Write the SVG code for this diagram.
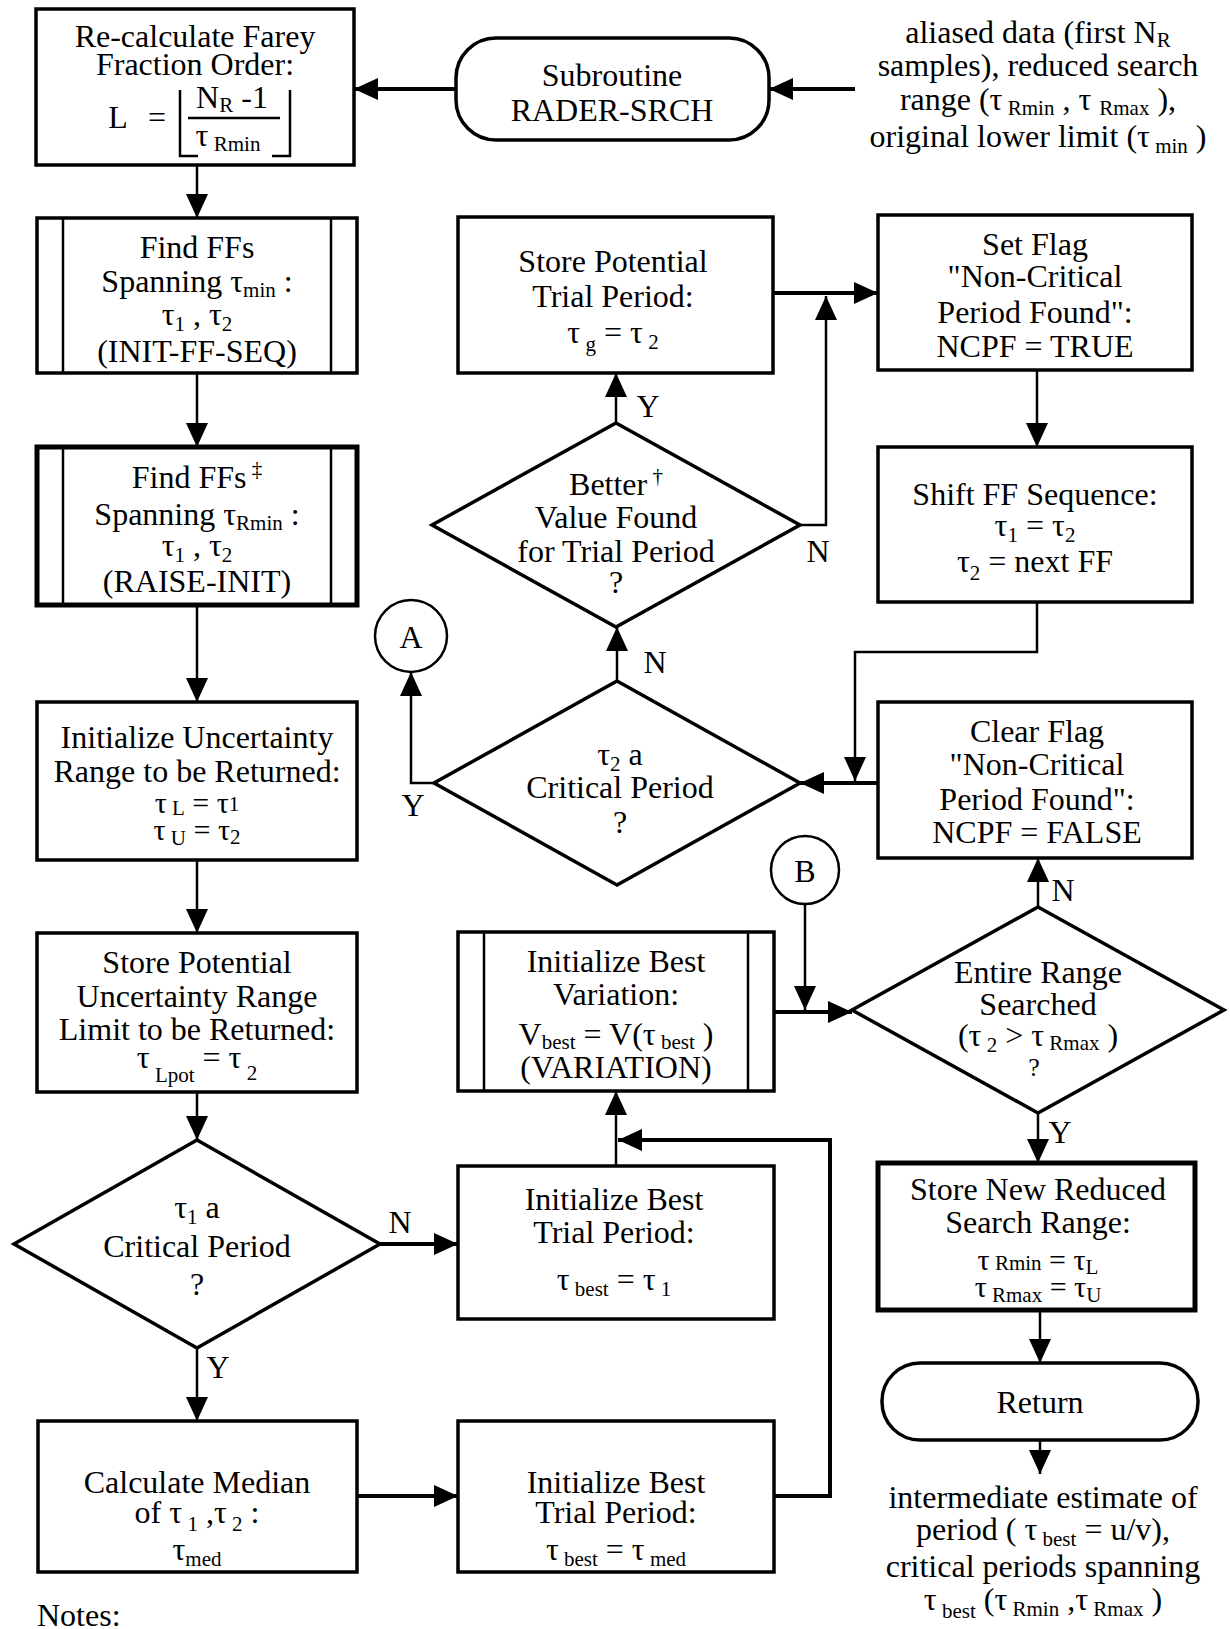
<svg xmlns="http://www.w3.org/2000/svg" width="1230" height="1629" viewBox="0 0 1230 1629">
<defs>
<marker id="ah" markerWidth="24" markerHeight="22" refX="24" refY="11" orient="auto" markerUnits="userSpaceOnUse"><path d="M0,0 L24,11 L0,22 z" fill="#000"/></marker>
</defs>
<style>
text{font-family:"Liberation Serif","Times New Roman",serif;font-size:32px;fill:#000;text-anchor:middle}
.l{text-anchor:start}
.s{font-size:21px}
.q{font-size:26px}
.f{font-size:30px}
.box{fill:#fff;stroke:#000;stroke-width:3.5}
.thick{stroke-width:5}
.dia{fill:#fff;stroke:#000;stroke-width:3.5}
.bar{stroke:#000;stroke-width:2.5;fill:none}
.c{fill:none;stroke:#000;stroke-width:2.5}
.cb{fill:none;stroke:#000;stroke-width:4}
</style>
<rect width="1230" height="1629" fill="#fff"/>

<g id="connectors">
<line class="cb" x1="855" y1="89" x2="769" y2="89" marker-end="url(#ah)"/>
<line class="cb" x1="456" y1="89" x2="354" y2="89" marker-end="url(#ah)"/>
<line class="c" x1="197" y1="165" x2="197" y2="218" marker-end="url(#ah)"/>
<line class="c" x1="197" y1="373" x2="197" y2="447" marker-end="url(#ah)"/>
<line class="c" x1="197" y1="605" x2="197" y2="702" marker-end="url(#ah)"/>
<line class="c" x1="197" y1="860" x2="197" y2="933" marker-end="url(#ah)"/>
<line class="c" x1="197" y1="1092" x2="197" y2="1140" marker-end="url(#ah)"/>
<line class="cb" x1="380" y1="1244" x2="458" y2="1244" marker-end="url(#ah)"/>
<line class="c" x1="197" y1="1348" x2="197" y2="1421" marker-end="url(#ah)"/>
<line class="cb" x1="357" y1="1496" x2="458" y2="1496" marker-end="url(#ah)"/>
<polyline class="cb" points="774,1496 830,1496 830,1140 618,1140" marker-end="url(#ah)"/>
<line class="c" x1="616" y1="1166" x2="616" y2="1091" marker-end="url(#ah)"/>
<line class="cb" x1="774" y1="1012" x2="852" y2="1012" marker-end="url(#ah)"/>
<line class="c" x1="805" y1="904" x2="805" y2="1010" marker-end="url(#ah)"/>
<line class="c" x1="1038" y1="907" x2="1038" y2="858" marker-end="url(#ah)"/>
<line class="c" x1="1038" y1="1113" x2="1038" y2="1163" marker-end="url(#ah)"/>
<line class="c" x1="1040" y1="1310" x2="1040" y2="1363" marker-end="url(#ah)"/>
<line class="c" x1="1040" y1="1440" x2="1040" y2="1474" marker-end="url(#ah)"/>
<line class="cb" x1="878" y1="783" x2="800" y2="783" marker-end="url(#ah)"/>
<polyline class="c" points="434,783 411,783 411,672" marker-end="url(#ah)"/>
<line class="c" x1="617" y1="681" x2="617" y2="627" marker-end="url(#ah)"/>
<line class="c" x1="616" y1="423" x2="616" y2="373" marker-end="url(#ah)"/>
<polyline class="c" points="800,525 826,525 826,296" marker-end="url(#ah)"/>
<line class="cb" x1="773" y1="293" x2="878" y2="293" marker-end="url(#ah)"/>
<line class="c" x1="1037" y1="370" x2="1037" y2="447" marker-end="url(#ah)"/>
<polyline class="c" points="1037,602 1037,652 855,652 855,781" marker-end="url(#ah)"/>
<text x="400" y="1233">N</text>
<text x="218" y="1378">Y</text>
<text x="1063" y="901">N</text>
<text x="1060" y="1143">Y</text>
<text x="413" y="816">Y</text>
<text x="655" y="673">N</text>
<text x="648" y="417">Y</text>
<text x="818" y="562">N</text>
</g>

<g id="n-recalc">
<rect class="box" x="36" y="9" width="318" height="156" stroke-width="4"/>
<text x="195" y="47">Re-calculate Farey</text>
<text x="195" y="75">Fraction Order:</text>
<text x="118" y="128">L</text>
<text x="157" y="128">=</text>
<text x="232" y="108">N<tspan class="s" dy="4">R</tspan><tspan dy="-4"> -1</tspan></text>
<line x1="188" y1="118" x2="280" y2="118" stroke="#000" stroke-width="2.5"/>
<text x="228" y="146">τ<tspan class="s" dy="5"> Rmin</tspan></text>
<polyline points="180,90 180,156 198,156" fill="none" stroke="#000" stroke-width="2.5"/>
<polyline points="290,90 290,156 272,156" fill="none" stroke="#000" stroke-width="2.5"/>
</g>

<g id="n-sub">
<rect class="box" x="456" y="38" width="313" height="102" rx="40"/>
<text x="612" y="86">Subroutine</text>
<text x="612" y="121">RADER-SRCH</text>
</g>

<g id="n-input">
<text x="1038" y="43">aliased data (first N<tspan class="s" dy="4">R</tspan></text>
<text x="1038" y="76">samples), reduced search</text>
<text x="1038" y="110">range (τ<tspan class="s" dy="5"> Rmin</tspan><tspan dy="-5"> , τ </tspan><tspan class="s" dy="5">Rmax</tspan><tspan dy="-5">  ),</tspan></text>
<text x="1038" y="147">original lower limit (τ<tspan class="s" dy="6"> min</tspan><tspan dy="-6"> )</tspan></text>
</g>

<g id="n-find1">
<rect class="box" x="37" y="218" width="320" height="155"/>
<line class="bar" x1="63" y1="218" x2="63" y2="373"/>
<line class="bar" x1="331" y1="218" x2="331" y2="373"/>
<text x="197" y="258">Find FFs</text>
<text x="197" y="292">Spanning  τ<tspan class="s" dy="5">min</tspan><tspan dy="-5"> :</tspan></text>
<text x="197" y="325">τ<tspan class="s" dy="6">1</tspan><tspan dy="-6">  , τ</tspan><tspan class="s" dy="6">2</tspan></text>
<text x="197" y="362">(INIT-FF-SEQ)</text>
</g>

<g id="n-find2">
<rect class="box thick" x="37" y="447" width="320" height="158"/>
<line class="bar" x1="63" y1="447" x2="63" y2="605"/>
<line class="bar" x1="331" y1="447" x2="331" y2="605"/>
<text x="197" y="488">Find FFs<tspan class="s" dy="-12"> ‡</tspan></text>
<text x="197" y="525">Spanning τ<tspan class="s" dy="5">Rmin</tspan><tspan dy="-5"> :</tspan></text>
<text x="197" y="556">τ<tspan class="s" dy="6">1</tspan><tspan dy="-6"> , τ</tspan><tspan class="s" dy="6">2</tspan></text>
<text x="197" y="592">(RAISE-INIT)</text>
</g>

<g id="n-init-unc">
<rect class="box" x="37" y="702" width="320" height="158" stroke-width="4"/>
<text x="197" y="748">Initialize Uncertainty</text>
<text x="197" y="782">Range to be Returned:</text>
<text class="f" x="197" y="813">τ<tspan class="s" dy="2"> L</tspan><tspan dy="-2"> =  τ</tspan><tspan class="s" dy="-2">1</tspan></text>
<text class="f" x="197" y="840">τ<tspan class="s" dy="5"> U</tspan><tspan dy="-5"> =  τ</tspan><tspan class="s" dy="4">2</tspan></text>
</g>

<g id="n-store-unc">
<rect class="box" x="37" y="933" width="320" height="159" stroke-width="4"/>
<text x="197" y="973">Store Potential</text>
<text x="197" y="1007">Uncertainty Range</text>
<text x="197" y="1040">Limit to be Returned:</text>
<text x="197" y="1068">τ<tspan class="s" dy="14"> Lpot</tspan><tspan dy="-14"> = τ</tspan><tspan class="s" dy="12"> 2</tspan></text>
</g>

<g id="n-d-tau1">
<polygon class="dia" points="197,1140 380,1244 197,1348 14,1244"/>
<text x="197" y="1218">τ<tspan class="s" dy="6">1</tspan><tspan dy="-6">  a</tspan></text>
<text x="197" y="1257">Critical Period</text>
<text x="197" y="1295">?</text>
</g>

<g id="n-median">
<rect class="box" x="38" y="1421" width="319" height="151"/>
<text x="197" y="1493">Calculate Median</text>
<text x="197" y="1523">of τ<tspan class="s" dy="8"> 1</tspan><tspan dy="-8"> ,τ</tspan><tspan class="s" dy="8"> 2</tspan><tspan dy="-8"> :</tspan></text>
<text x="197" y="1560">τ<tspan class="s" dy="6">med</tspan></text>
</g>

<g id="n-init-med">
<rect class="box" x="458" y="1421" width="316" height="151"/>
<text x="616" y="1493">Initialize  Best</text>
<text x="616" y="1523">Trial Period:</text>
<text x="616" y="1560">τ<tspan class="s" dy="6"> best</tspan><tspan dy="-6"> = τ</tspan><tspan class="s" dy="6"> med</tspan></text>
</g>

<g id="n-init-t1">
<rect class="box" x="458" y="1166" width="316" height="153"/>
<text x="614" y="1210">Initialize  Best</text>
<text x="614" y="1243">Trial Period:</text>
<text x="614" y="1290">τ<tspan class="s" dy="6"> best</tspan><tspan dy="-6"> = τ</tspan><tspan class="s" dy="6"> 1</tspan></text>
</g>

<g id="n-init-var">
<rect class="box" x="458" y="932" width="316" height="159"/>
<line class="bar" x1="484" y1="932" x2="484" y2="1091"/>
<line class="bar" x1="748" y1="932" x2="748" y2="1091"/>
<text x="616" y="972">Initialize  Best</text>
<text x="616" y="1005">Variation:</text>
<text x="616" y="1045">V<tspan class="s" dy="4">best</tspan><tspan dy="-4">  =  V(τ</tspan><tspan class="s" dy="4"> best</tspan><tspan dy="-4"> )</tspan></text>
<text x="616" y="1078">(VARIATION)</text>
</g>

<g id="n-B">
<circle cx="805" cy="870" r="34" fill="#fff" stroke="#000" stroke-width="2.5"/>
<text x="805" y="882">B</text>
</g>

<g id="n-A">
<circle cx="411" cy="636" r="36" fill="#fff" stroke="#000" stroke-width="2.5"/>
<text x="411" y="648">A</text>
</g>

<g id="n-d-range">
<polygon class="dia" stroke-width="6" points="1038,907 1224,1010 1038,1113 852,1010"/>
<text x="1038" y="983">Entire Range</text>
<text x="1038" y="1015">Searched</text>
<text x="1038" y="1046">(τ<tspan class="s" dy="6"> 2</tspan><tspan dy="-6"> &gt; τ</tspan><tspan class="s" dy="4"> Rmax</tspan><tspan dy="-4">  )</tspan></text>
<text class="q" x="1034" y="1076">?</text>
</g>

<g id="n-store-new">
<rect class="box thick" x="878" y="1163" width="317" height="147"/>
<text x="1038" y="1200">Store New Reduced</text>
<text x="1038" y="1233">Search Range:</text>
<text class="f" x="1038" y="1270">τ<tspan class="s"> Rmin</tspan><tspan>  =  τ</tspan><tspan class="s" dy="4">L</tspan></text>
<text class="f" x="1038" y="1297">τ<tspan class="s" dy="5"> Rmax</tspan><tspan dy="-5">  =  τ</tspan><tspan class="s" dy="5">U</tspan></text>
</g>

<g id="n-return">
<rect class="box" x="882" y="1363" width="316" height="77" rx="38"/>
<text x="1040" y="1413">Return</text>
</g>

<g id="n-output">
<text x="1043" y="1508">intermediate estimate of</text>
<text x="1043" y="1540">period ( τ<tspan class="s" dy="6"> best</tspan><tspan dy="-6">   = u/v),</tspan></text>
<text x="1043" y="1577">critical periods spanning</text>
<text x="1043" y="1610">τ<tspan class="s" dy="8"> best</tspan><tspan dy="-8">  (τ</tspan><tspan class="s" dy="6"> Rmin</tspan><tspan dy="-6"> ,τ</tspan><tspan class="s" dy="6"> Rmax</tspan><tspan dy="-6"> )</tspan></text>
</g>

<g id="n-clear">
<rect class="box" x="878" y="702" width="314" height="156" stroke-width="4"/>
<text x="1037" y="742">Clear Flag</text>
<text x="1037" y="775">"Non-Critical</text>
<text x="1037" y="810">Period Found":</text>
<text x="1037" y="843">NCPF = FALSE</text>
</g>

<g id="n-d-tau2">
<polygon class="dia" points="617,681 800,783 617,885 434,783"/>
<text x="620" y="765">τ<tspan class="s" dy="6">2</tspan><tspan dy="-6">  a</tspan></text>
<text x="620" y="798">Critical Period</text>
<text x="620" y="833">?</text>
</g>

<g id="n-d-better">
<polygon class="dia" points="616,423 800,525 616,627 432,525"/>
<text x="616" y="495">Better<tspan class="s" dy="-12"> †</tspan></text>
<text x="616" y="528">Value  Found</text>
<text x="616" y="562">for Trial Period</text>
<text x="616" y="593">?</text>
</g>

<g id="n-store-trial">
<rect class="box" x="458" y="217" width="315" height="156" stroke-width="4"/>
<text x="613" y="272">Store Potential</text>
<text x="613" y="307">Trial Period:</text>
<text x="613" y="343">τ<tspan class="s" dy="8"> g</tspan><tspan dy="-8">  =  τ</tspan><tspan class="s" dy="6"> 2</tspan></text>
</g>

<g id="n-set">
<rect class="box" x="878" y="215" width="314" height="155" stroke-width="4"/>
<text x="1035" y="255">Set Flag</text>
<text x="1035" y="287">"Non-Critical</text>
<text x="1035" y="323">Period Found":</text>
<text x="1035" y="357">NCPF = TRUE</text>
</g>

<g id="n-shift">
<rect class="box" x="878" y="447" width="314" height="155" stroke-width="4"/>
<text x="1035" y="505">Shift FF Sequence:</text>
<text x="1035" y="536">τ<tspan class="s" dy="6">1</tspan><tspan dy="-6">   = τ</tspan><tspan class="s" dy="6">2</tspan></text>
<text x="1035" y="572">τ<tspan class="s" dy="8">2</tspan><tspan dy="-8"> = next FF</tspan></text>
</g>

<text class="l" x="37" y="1626">Notes:</text>
</svg>
